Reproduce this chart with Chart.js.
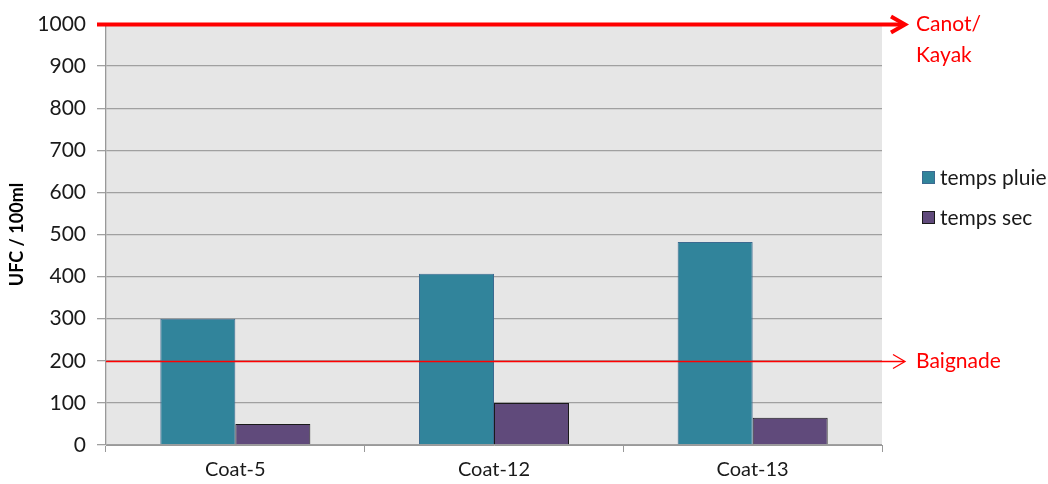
<!DOCTYPE html>
<html>
<head>
<meta charset="utf-8">
<script src="https://cdn.jsdelivr.net/npm/chart.js@4"></script>
<style>
html,body{margin:0;padding:0;background:#fff;}
#wrap{width:1048px;height:484px;}
</style>
</head>
<body>
<div id="wrap"><canvas id="c" width="1048" height="484"></canvas></div>
<script>
const categories = ["Coat-5", "Coat-12", "Coat-13"];
const seriesNames = ["temps pluie", "temps sec"];
const tempsPluie = [300, 407, 482];
const tempsSec = [50, 100, 65];
const yTicks = [0, 100, 200, 300, 400, 500, 600, 700, 800, 900, 1000];
const thresholdValues = [1000, 200];
const thresholdLabels = [["Canot/", "Kayak"], ["Baignade"]];

const FONT = 'Lato, "Liberation Sans", sans-serif';
const colors = ['#31849b', '#604a7b'];
const borders = ['#3c6a90', '#1a1a1a'];

const overlay = {
  id: 'overlay',
  beforeDraw(chart) {
    const {ctx, chartArea: a} = chart;
    ctx.save();
    ctx.fillStyle = '#e6e6e6';
    ctx.fillRect(a.left, a.top, a.right - a.left, a.bottom - a.top);
    ctx.restore();
  },
  afterDatasetsDraw(chart) {
    const {ctx, chartArea: a, scales} = chart;
    const y = scales.y;
    ctx.save();
    thresholdValues.forEach((v, i) => {
      const py = Math.round(y.getPixelForValue(v)) + 0.5;
      const thick = i === 0;
      ctx.strokeStyle = '#ff0000';
      ctx.lineWidth = thick ? 4 : 1.3;
      const x0 = thick ? a.left - 9 : a.left;
      const tip = 905;
      ctx.beginPath();
      ctx.moveTo(x0, py);
      ctx.lineTo(tip - 1, py);
      ctx.stroke();
      ctx.beginPath();
      ctx.lineJoin = 'miter';
      const back = thick ? 14 : 12;
      const h = thick ? 8 : 7;
      ctx.moveTo(tip - back, py - h);
      ctx.lineTo(tip, py);
      ctx.lineTo(tip - back, py + h);
      ctx.stroke();
      ctx.fillStyle = '#ff0000';
      ctx.font = '21px ' + FONT;
      ctx.textBaseline = 'middle';
      ctx.textAlign = 'left';
      thresholdLabels[i].forEach((t, j) => {
        ctx.fillText(t, 916, py + j * 31);
      });
    });
    // legend
    const ly = [178, 218];
    seriesNames.forEach((n, i) => {
      ctx.fillStyle = colors[i];
      ctx.fillRect(922.5, ly[i] - 6.5, 12, 12);
      ctx.strokeStyle = borders[i];
      ctx.lineWidth = 1;
      ctx.strokeRect(922.5, ly[i] - 6.5, 12, 12);
      ctx.fillStyle = '#1a1a1a';
      ctx.font = '21px ' + FONT;
      ctx.textBaseline = 'middle';
      ctx.textAlign = 'left';
      ctx.fillText(n, 940, ly[i]);
    });
    ctx.restore();
  }
};

new Chart(document.getElementById('c'), {
  type: 'bar',
  data: {
    labels: categories,
    datasets: [
      {label: seriesNames[0], data: tempsPluie, backgroundColor: colors[0], borderColor: borders[0], borderWidth: 1},
      {label: seriesNames[1], data: tempsSec, backgroundColor: colors[1], borderColor: borders[1], borderWidth: 1}
    ]
  },
  options: {
    responsive: false,
    animation: false,
    devicePixelRatio: 1,
    layout: {padding: {top: 24, right: 166, bottom: 0, left: 0}},
    plugins: {legend: {display: false}, tooltip: {enabled: false}},
    datasets: {bar: {barPercentage: 1, categoryPercentage: 0.58}},
    scales: {
      x: {
        offset: true,
        grid: {offset: true, drawOnChartArea: false, color: '#999', tickLength: 7, lineWidth: 1},
        border: {display: true, color: '#999', width: 1},
        ticks: {color: '#1a1a1a', font: {family: FONT, size: 20}, padding: 6},
        afterFit(s) { s.height = 39; }
      },
      y: {
        min: 0, max: 1000,
        afterBuildTicks(s) { s.ticks = yTicks.map(v => ({value: v})); },
        grid: {color: '#a0a0a0', lineWidth: 1.3, tickLength: 9},
        border: {display: true, color: '#999', width: 1.3},
        ticks: {color: '#1a1a1a', font: {family: FONT, size: 21}, padding: 11, callback: v => String(v)},
        title: {display: true, text: 'UFC / 100ml', color: '#000', font: {family: FONT, size: 18, weight: 'bold'}, padding: {top: 6, bottom: 0}},
        afterFit(s) { s.width = 106; }
      }
    }
  },
  plugins: [overlay]
});
</script>
</body>
</html>
